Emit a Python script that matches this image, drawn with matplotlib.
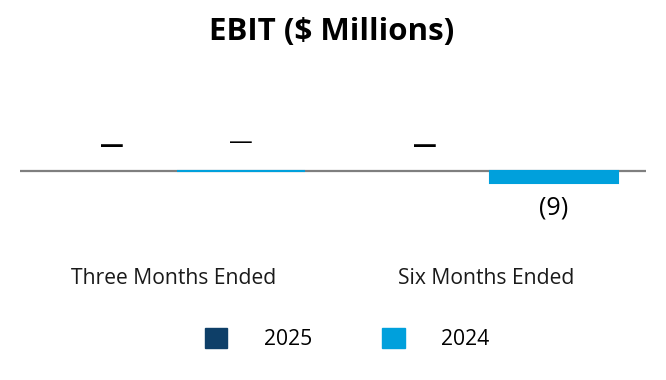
import matplotlib
matplotlib.use("Agg")
import matplotlib.pyplot as plt
from matplotlib.patches import Patch
import numpy as np

plt.rcParams['font.family'] = ['Open Sans', 'DejaVu Sans']

categories = ["Three Months Ended", "Six Months Ended"]
series_names = ["2025", "2024"]
values_2025 = [0, 0]
values_2024 = [0, -9]
labels_2025 = ["—", "—"]
labels_2024 = ["—", "(9)"]

c2025 = "#0E3F68"
c2024 = "#00A0DC"

fig = plt.figure(figsize=(6.66, 3.8), dpi=100)
W, H = 666, 380
top_px, bot_px = 80, 230
ax = fig.add_axes([20 / W, 1 - bot_px / H, 626 / W, (bot_px - top_px) / H])
ax.set_xlim(-0.5, 1.5)
scale = 12 / 9.0
ax.set_ylim(-(bot_px - 171) / scale, (171 - top_px) / scale)
ax.axis("off")

x = np.arange(len(categories))
w = 0.41
off = 0.206
ax.axhline(0, color="#7f7f7f", lw=1.6, zorder=1)
ax.bar(x - off, values_2025, w, color=c2025, zorder=2)
ax.bar(x + off, values_2024, w, color=c2024, edgecolor=c2024, lw=1.5, zorder=3)

for i in range(len(categories)):
    ax.annotate(labels_2025[i], (x[i] - off, max(values_2025[i], 0)), xytext=(0, 18),
                textcoords="offset points", ha="center", va="center",
                fontsize=17, fontweight="bold", color="black")
    v = values_2024[i]
    if v >= 0:
        ax.annotate(labels_2024[i], (x[i] + off, v), xytext=(0, 20),
                    textcoords="offset points", ha="center", va="center",
                    fontsize=17, color="black")
    else:
        ax.annotate(labels_2024[i], (x[i] + off, v), xytext=(0, -18),
                    textcoords="offset points", ha="center", va="center",
                    fontsize=18, color="black")

for i, c in enumerate(categories):
    fig.text((17 + 626 * (x[i] + 0.5) / 2) / W, 1 - 279 / H, c, ha="center", va="center",
             fontsize=15.2, color="#1a1a1a")

fig.text(332 / W, 1 - 32 / H, "EBIT ($ Millions)", ha="center", va="center",
         fontsize=22.5, fontweight="bold", color="black")

handles = [Patch(color=c2025, label=series_names[0]), Patch(color=c2024, label=series_names[1])]
fig.legend(handles=handles, loc="center", bbox_to_anchor=(347.5 / W, 1 - 339 / H), ncol=2,
           frameon=False, fontsize=15.2, handlelength=1.05, handleheight=1.05,
           handletextpad=1.75, columnspacing=3.3)

fig.savefig("out.png", dpi=100)
